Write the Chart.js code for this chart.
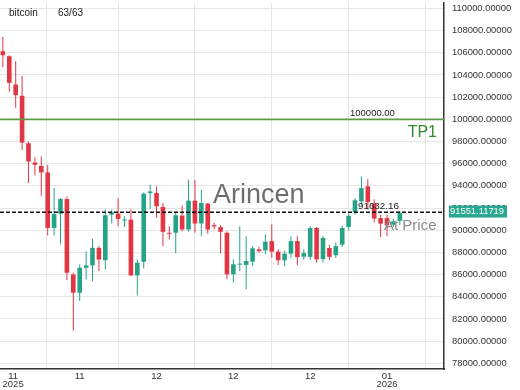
<!DOCTYPE html>
<html>
<head>
<meta charset="utf-8">
<title>bitcoin</title>
<script src="https://cdn.jsdelivr.net/npm/chart.js@4.4.1/dist/chart.umd.min.js"></script>
<style>
  html, body { margin: 0; padding: 0; background: #fff; }
  #wrap { width: 520px; height: 390px; }
</style>
</head>
<body>
<div id="wrap"><canvas id="candles"></canvas></div>
<script>
// ── Daily candles ────────────────────────────────────────────
const OPEN = [
  106140, 105690, 103140, 102125, 97845, 96110, 95810, 95210, 90210, 91497,
  92815, 86018, 84370, 86620, 86830, 88413, 87305, 91407, 91500, 90870,
  90960, 85930, 87155, 93350, 93362, 92100, 89770, 89770, 91320, 90070,
  92670, 90610, 92400, 90460, 90280, 89770, 86030, 86900, 86870, 87170,
  88270, 88190, 89020, 88070, 87290, 87890, 89020, 87620, 87600, 90200,
  87400, 88400, 87750, 88700, 90300, 91650, 92600, 93960, 92400, 91100,
  91100, 90500, 90850
];
const HIGH = [
  107420, 105780, 105270, 103920, 97995, 96555, 96650, 95900, 93800, 92900,
  93054, 86170, 86920, 88114, 89220, 88560, 91860, 91860, 92905, 91260,
  91860, 87365, 93413, 94100, 93950, 92460, 90366, 91660, 92250, 94550,
  94550, 93650, 92460, 90670, 90460, 89920, 87370, 90370, 89470, 88570,
  88480, 89620, 90520, 88280, 88180, 89470, 89470, 88280, 90370, 90300,
  89500, 88700, 88900, 90400, 91500, 92900, 94850, 94600, 92800, 91400,
  91400, 91000, 91750
];
const LOW = [
  104730, 102485, 101050, 97245, 94250, 94940, 93115, 89520, 89520, 88713,
  85510, 80930, 83620, 85570, 85420, 86320, 86470, 90600, 90360, 90300,
  85870, 84130, 86530, 91940, 91120, 88570, 89170, 87920, 89920, 89860,
  89770, 89470, 89680, 90070, 87920, 85580, 85290, 86330, 84690, 86780,
  87970, 87830, 87530, 86870, 86750, 87530, 86870, 87350, 87350, 87080,
  87100, 87300, 87500, 88500, 90000, 91400, 92200, 91900, 90700, 89400,
  89450, 90300, 90500
];
const CLOSE = [
  105780, 103290, 102185, 97905, 96200, 95900, 95210, 90210, 91470, 92815,
  86168, 84370, 86620, 86830, 88413, 87365, 91350, 91617, 91020, 90960,
  85930, 87070, 93294, 93500, 92160, 89860, 89680, 91350, 90070, 92670,
  90610, 92460, 90070, 90340, 89860, 86030, 86930, 86960, 87230, 88370,
  88120, 88970, 88070, 87290, 87890, 89020, 87590, 87950, 90200, 87380,
  89300, 87600, 88570, 90200, 91300, 92700, 93800, 92550, 91050, 90600,
  90450, 90800, 91551.11719
];

// ── Axes ─────────────────────────────────────────────────────
const Y_TICKS = [
  78000, 80000, 82000, 84000, 86000, 88000, 90000, 92000, 94000,
  96000, 98000, 100000, 102000, 104000, 106000, 108000, 110000
];
const X_TICKS  = [0, 1.6, 12, 24, 36, 48, 60];
const X_LABELS = ['', ['11', '2025'], '11', '12', '12', '12', ['01', '2026']];

// ── Levels ───────────────────────────────────────────────────
const TP1_PRICE  = 100000;
const LINE_PRICE = 91632.16;
const LAST_PRICE = 91551.11719;

(function () {

  const FONT = "'Liberation Sans', Arial, sans-serif";
  const UP    = '#26a387';
  const DOWN  = '#e23645';
  const GRID  = '#e6e6e6';
  const AXIS  = '#333333';
  const X_MIN = -0.45;
  const X_MAX = 68.9;

  const candleColor = (i) => (CLOSE[i] >= OPEN[i] ? UP : DOWN);

  const bodies = OPEN.map((o, i) => ({ x: i, y: [o, CLOSE[i]] }));
  const wicks  = LOW.map((l, i) => ({ x: i, y: [l, HIGH[i]] }));
  const colors = OPEN.map((_, i) => candleColor(i));

  // ── Texts and price tag drawn on top ───────────────────────
  const overlayPlugin = {
    id: 'overlay',
    afterDraw(chart) {
      const { ctx, chartArea: a, scales: { y } } = chart;
      const tpY   = y.getPixelForValue(TP1_PRICE);
      const lineY = y.getPixelForValue(LINE_PRICE);
      const lastY = y.getPixelForValue(LAST_PRICE);

      ctx.save();
      ctx.textAlign = 'left';
      ctx.textBaseline = 'alphabetic';

      // caption
      ctx.fillStyle = '#222';
      ctx.font = `10px ${FONT}`;
      ctx.fillText('bitcoin', a.left + 9, a.top + 13);
      ctx.fillText('63/63', a.left + 58, a.top + 13);

      // watermark
      ctx.fillStyle = '#6e6e6e';
      ctx.font = `27px ${FONT}`;
      ctx.fillText('Arincen', 213, 203);

      // TP1 level
      ctx.fillStyle = '#222';
      ctx.font = `9.5px ${FONT}`;
      ctx.fillText('100000.00', a.right - 94, tpY - 3);
      ctx.fillStyle = '#2e8b2e';
      ctx.font = `16px ${FONT}`;
      ctx.textAlign = 'right';
      ctx.fillText('TP1', a.right - 7, tpY + 18);

      // dashed level label
      ctx.textAlign = 'left';
      ctx.fillStyle = '#222';
      ctx.font = `9.8px ${FONT}`;
      ctx.fillText('91632.16', 358, lineY - 3);

      ctx.fillStyle = '#8c8c8c';
      ctx.font = `15px ${FONT}`;
      ctx.fillText('At Price', 384, 230);

      // last price tag on the axis
      ctx.fillStyle = '#28a88e';
      ctx.fillRect(a.right + 5, lastY - 7.5, 58, 12);
      ctx.fillStyle = '#fff';
      ctx.font = `9.4px ${FONT}`;
      ctx.textBaseline = 'middle';
      ctx.fillText(LAST_PRICE.toFixed(5), a.right + 6, lastY - 1.2);

      ctx.restore();
    }
  };

  const flatLine = (price) => [{ x: X_MIN, y: price }, { x: X_MAX, y: price }];

  new Chart(document.getElementById('candles'), {
    type: 'bar',
    data: {
      datasets: [
        {
          label: 'body',
          data: bodies,
          backgroundColor: colors,
          borderWidth: 0,
          grouped: false,
          maxBarThickness: 5,
          minBarLength: 1,
          order: 1,
        },
        {
          label: 'wick',
          data: wicks,
          backgroundColor: colors,
          borderWidth: 0,
          grouped: false,
          maxBarThickness: 1,
          order: 2,
        },
        {
          type: 'line',
          label: 'TP1',
          data: flatLine(TP1_PRICE),
          borderColor: '#5f9a4f',
          borderWidth: 1.6,
          pointRadius: 0,
          order: 0,
        },
        {
          type: 'line',
          label: 'level',
          data: flatLine(LINE_PRICE),
          borderColor: '#111',
          borderWidth: 1.5,
          borderDash: [4, 2],
          pointRadius: 0,
          order: 0,
        },
      ]
    },
    options: {
      responsive: true,
      maintainAspectRatio: false,
      animation: false,
      layout: { padding: { top: 3, left: 0, right: 0, bottom: 0 } },
      plugins: {
        legend: { display: false },
        tooltip: { enabled: false },
      },
      scales: {
        x: {
          type: 'linear',
          position: 'bottom',
          min: X_MIN,
          max: X_MAX,
          offset: false,
          afterBuildTicks: (s) => { s.ticks = X_TICKS.map(v => ({ value: v })); },
          afterFit: (s) => {
            s.height = 21;
            s.paddingLeft = 0; s.paddingRight = 0;
          },
          grid: {
            color: (c) => (c.tick && c.tick.value === 1.6 ? 'rgba(0,0,0,0)' : GRID),
            drawTicks: false,
          },
          border: { display: true, color: AXIS, width: 1.5 },
          ticks: {
            autoSkip: false,
            maxRotation: 0,
            padding: 3,
            color: AXIS,
            font: { family: FONT, size: 9.5, lineHeight: 0.9 },
            callback: (v) => {
              const k = X_TICKS.indexOf(v);
              return k >= 0 ? X_LABELS[k] : '';
            }
          }
        },
        y: {
          position: 'right',
          min: 77490,
          max: 110490,
          afterBuildTicks: (s) => { s.ticks = Y_TICKS.map(v => ({ value: v })); },
          afterFit: (s) => {
            s.width = 76;
            s.paddingTop = 0; s.paddingBottom = 0;
          },
          grid: { color: GRID, drawTicks: false },
          border: { display: true, color: AXIS, width: 1.5 },
          ticks: {
            padding: 8,
            color: AXIS,
            font: { family: FONT, size: 9.4 },
            callback: (v) => Number(v).toFixed(5)
          }
        }
      }
    },
    plugins: [overlayPlugin]
  });

})();
</script>
</body>
</html>
